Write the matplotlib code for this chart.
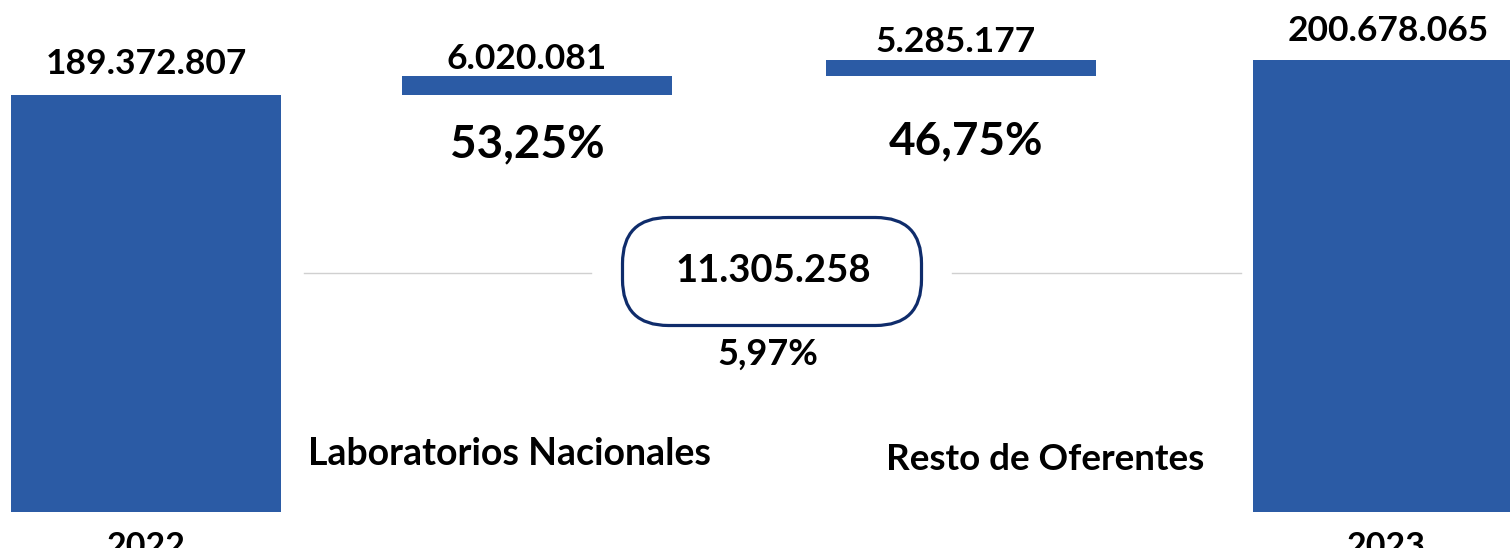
import matplotlib.pyplot as plt
from matplotlib.patches import FancyBboxPatch

# waterfall: 2022 -> aportes -> 2023 (millones)
categories = ["2022", "Laboratorios Nacionales", "Resto de Oferentes", "2023"]
values = [189.372807, 6.020081, 5.285177, 200.678065]
value_labels = ["189.372.807", "6.020.081", "5.285.177", "200.678.065"]
share_labels = ["53,25%", "46,75%"]
total_change = "11.305.258"
total_pct = "5,97%"

BLUE = "#2B5BA5"
NAVY = "#0F2C6B"
plt.rcParams['font.family'] = ['Lato', 'DejaVu Sans']

W, H = 1510, 548
BASE = 512  # pixel row where the (truncated) value axis starts
fig = plt.figure(figsize=(W / 100, H / 100), dpi=100)
ax = fig.add_axes([0, (H - BASE) / H, 1, BASE / H])
ax.set_xlim(0, W)
ax.set_ylim(54.6, 219.9)
ax.axis("off")

xs = [146, 537, 961, 1388]
width = 270

bottoms = [0, values[0], values[0] + values[1], 0]
ax.bar(xs, values, width=width, bottom=bottoms, color=BLUE)

offsets = [(0, 31), (-10, 17), (-5, 18), (0, 29)]
for x, v, b, lab, off in zip(xs, values, bottoms, value_labels, offsets):
    ax.annotate(lab, (x, b + v), xytext=off, textcoords="offset pixels",
                ha="center", va="center", fontsize=25.5, fontweight="bold")

# overlay in pixel units for annotations (y down)
ov = fig.add_axes([0, 0, 1, 1], facecolor="none")
ov.set_xlim(0, W)
ov.set_ylim(H, 0)
ov.axis("off")


def ptext(x, y, s, size):
    ov.text(x, y, s, ha="center", va="center", fontweight="bold",
            fontsize=size, clip_on=False)


ptext(527, 144, share_labels[0], 33)
ptext(966, 141, share_labels[1], 33)

ptext(510, 454, categories[1], 27)
ptext(1045, 460, categories[2], 26.5)

# category labels for the total bars, partly below the picture edge
ptext(146, 547, categories[0], 24.5)
ptext(1386, 547, categories[3], 24.5)

# connector lines
for x0, x1 in [(304, 591), (952, 1241)]:
    ov.plot([x0, x1], [273, 273], color="#D0D0D0", lw=1)

box = FancyBboxPatch((622.5, 217.5), 299, 108,
                     boxstyle="round,pad=0,rounding_size=46",
                     fc="white", ec=NAVY, lw=2.3)
ov.add_patch(box)
ptext(773, 271, total_change, 27.5)
ptext(768, 354, total_pct, 26)

fig.savefig("out.png", dpi=100)
